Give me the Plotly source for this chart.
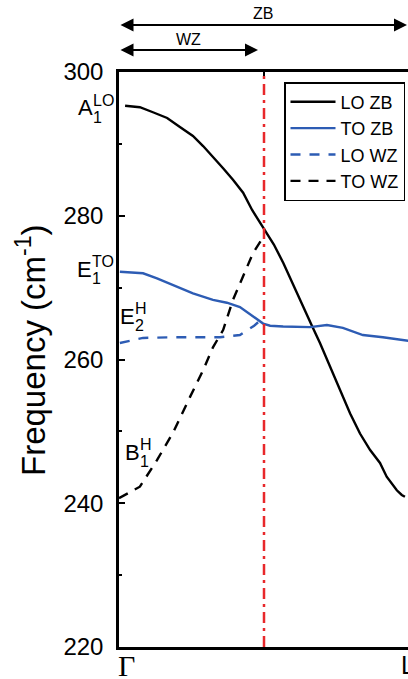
import plotly.graph_objects as go

# Phonon branches along the Γ → L path (0 = Γ, 0.5 = WZ zone edge, 1 = L), in cm^-1
q_lo_zb = [0.021, 0.072, 0.117, 0.166, 0.210, 0.255, 0.290, 0.324, 0.359, 0.393,
           0.428, 0.459, 0.486, 0.500, 0.534, 0.567, 0.601, 0.636, 0.664, 0.693,
           0.728, 0.762, 0.797, 0.831, 0.866, 0.900, 0.923, 0.958, 0.975, 0.986]
f_lo_zb = [295.3, 295.1, 294.4, 293.6, 292.35, 291.1, 289.7, 288.2, 286.6, 285.0,
           283.2, 280.8, 279.0, 278.2, 276.0, 273.4, 270.3, 267.3, 264.8, 262.3,
           259.0, 255.8, 252.5, 249.7, 247.4, 245.6, 243.7, 241.8, 241.15, 240.9]

q_to_zb = [0.003, 0.045, 0.083, 0.131, 0.200, 0.255, 0.324, 0.372, 0.417, 0.462,
           0.497, 0.521, 0.566, 0.659, 0.717, 0.772, 0.841, 0.910, 1.0]
f_to_zb = [272.2, 272.1, 272.0, 271.3, 270.1, 269.2, 268.3, 267.9, 267.3, 265.95,
           265.0, 264.7, 264.6, 264.5, 264.8, 264.4, 263.4, 263.1, 262.6]

q_lo_wz = [0.003, 0.083, 0.186, 0.349, 0.417, 0.466, 0.497]
f_lo_wz = [262.3, 263.0, 263.1, 263.1, 263.4, 264.7, 265.8]

q_to_wz = [0.0, 0.072, 0.131, 0.186, 0.245, 0.290, 0.324, 0.359, 0.393, 0.428,
           0.462, 0.497]
f_to_wz = [240.7, 242.3, 246.0, 249.8, 254.8, 258.5, 261.7, 264.1, 268.3, 271.5,
           274.8, 277.0]

series_names = ["LO ZB", "TO ZB", "LO WZ", "TO WZ"]
y_ticks = [220, 240, 260, 280, 300]
wz_edge = 0.5

BLACK = "#000000"
BLUE = "#2d5cb4"
RED = "#e8282b"
SANS = "Liberation Sans, Arial, sans-serif"
SERIF = "Liberation Serif, Times New Roman, serif"

W, H = 408, 679
M_L, M_R, M_T, M_B = 119, 0, 72, 32
PW = W - M_L - M_R
PH = H - M_T - M_B


def dx(px):
    """Pixel column -> x-domain fraction."""
    return (px - M_L) / PW


def dy(py):
    """Pixel row -> y-domain fraction."""
    return 1 - (py - M_T) / PH


fig = go.Figure()
line_w = 2.4
fig.add_trace(go.Scatter(x=q_lo_zb, y=f_lo_zb, mode="lines", name=series_names[0],
                         line=dict(color=BLACK, width=line_w)))
fig.add_trace(go.Scatter(x=q_to_zb, y=f_to_zb, mode="lines", name=series_names[1],
                         line=dict(color=BLUE, width=line_w)))
fig.add_trace(go.Scatter(x=q_lo_wz, y=f_lo_wz, mode="lines", name=series_names[2],
                         line=dict(color=BLUE, width=line_w, dash="10px,9px")))
fig.add_trace(go.Scatter(x=q_to_wz, y=f_to_wz, mode="lines", name=series_names[3],
                         line=dict(color=BLACK, width=line_w, dash="10px,8px")))

# WZ Brillouin-zone edge
fig.add_shape(type="line", xref="x", yref="y domain", x0=wz_edge, x1=wz_edge, y0=0, y1=1,
              line=dict(color=RED, width=2.5, dash="11px,5px,3px,5px"), layer="above")

ann = []


def text(s, px, py, size, xanchor="center", family=SANS, **kw):
    ann.append(dict(text=s, xref="x domain", yref="y domain", x=dx(px), y=dy(py),
                    xanchor=xanchor, yanchor="middle", showarrow=False, borderpad=0,
                    font=dict(family=family, size=size, color=BLACK), **kw))


def mode_label(main, sup, sub, px, py):
    # main symbol ends at px; super- and subscript stacked to its right
    text(main, px + 1, py, 22, xanchor="right")
    text(sup, px - 1, py - 8, 16, xanchor="left")
    text(sub, px - 1, py + 9, 16, xanchor="left")


mode_label("A", "LO", "1", 93, 108)
mode_label("E", "TO", "1", 92, 269)
mode_label("E", "H", "2", 135, 316)
mode_label("B", "H", "1", 140, 452)

# Axis title
text("Frequency (cm<sup>-1</sup>)", 31, 350, 33, textangle=-90)

# High-symmetry points
text("Γ", 126, 665, 30, family=SERIF)
text("L", 400, 665, 25, xanchor="left")

# Extent of the two zones along the path
for label, x_end, y_arrow, lx, ly in [("ZB", 407, 25, 263, 13), ("WZ", 258, 50, 188, 40)]:
    ann.append(dict(xref="x domain", yref="y domain", axref="x domain", ayref="y domain",
                    x=dx(x_end), y=dy(y_arrow), ax=dx(M_L), ay=dy(y_arrow), text="",
                    showarrow=True, arrowside="end+start", arrowhead=2, arrowsize=1.3,
                    arrowwidth=2, arrowcolor=BLACK, standoff=0, startstandoff=0))
    text(label, lx, ly, 16)

fig.update_layout(
    width=W, height=H,
    margin=dict(l=M_L, r=M_R, t=M_T, b=M_B, pad=0),
    paper_bgcolor="white", plot_bgcolor="white",
    font=dict(family=SANS, color=BLACK),
    showlegend=True,
    legend=dict(x=dx(284), y=dy(82), xanchor="left", yanchor="top",
                bgcolor="white", bordercolor=BLACK, borderwidth=1.5,
                font=dict(family=SANS, size=18, color=BLACK),
                itemwidth=45, tracegroupgap=0),
    annotations=ann,
    xaxis=dict(range=[0, PW / (PW + 1)], showgrid=False, zeroline=False,
               showline=True, linecolor=BLACK, linewidth=2.5, mirror="ticks",
               tickvals=[wz_edge], ticks="inside", ticklen=7, tickwidth=2,
               tickcolor=BLACK, showticklabels=False),
    yaxis=dict(range=[220, 300], showgrid=False, zeroline=False,
               showline=True, linecolor=BLACK, linewidth=2.5,
               tickvals=y_ticks, ticks="inside", ticklen=6, tickwidth=2,
               tickcolor=BLACK, ticklabelstandoff=8,
               tickfont=dict(family=SANS, size=24, color=BLACK),
               minor=dict(dtick=10, ticks="inside", ticklen=3, tickwidth=2,
                          tickcolor=BLACK, showgrid=False)),
    yaxis2=dict(range=[220, 300], overlaying="y", side="right", anchor="x",
                showgrid=False, zeroline=False, showline=False,
                tickvals=y_ticks, ticks="inside", ticklen=6, tickwidth=2,
                tickcolor=BLACK, showticklabels=False,
                minor=dict(dtick=10, ticks="inside", ticklen=3, tickwidth=2,
                           tickcolor=BLACK, showgrid=False)),
)

fig.write_html("out.html")
